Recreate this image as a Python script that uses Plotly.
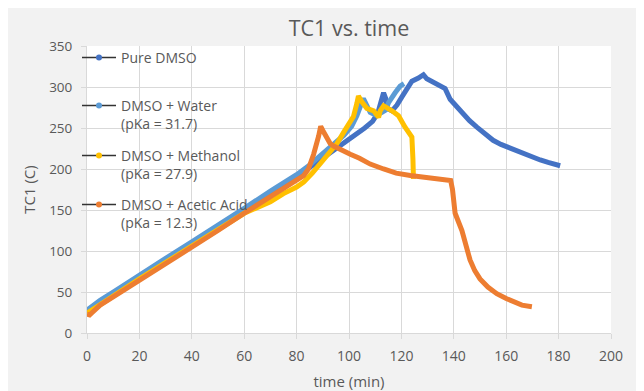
import plotly.graph_objects as go

# ---------------- data ----------------
dmso_t = [0, 2, 5, 10, 20, 30, 40, 50, 60, 70, 80, 85, 90, 94, 98, 102, 106, 109, 111,
          112.3, 113.2, 114, 114.6, 116.4, 118.3, 120.2, 122, 124, 126.5, 128.4, 129.7,
          131, 133.5, 136.7, 138.6, 141, 143.7, 146, 148.8, 152, 155, 158, 161, 164,
          167, 170, 173, 176, 178, 180.6]
dmso_T = [26, 30, 37, 47, 68, 88, 108, 128, 150, 170, 190, 202, 213, 222, 231, 240, 250,
          258, 268, 283, 293, 286, 274, 271, 278, 288, 298, 307, 311, 315, 310, 308, 304,
          298, 285, 276, 267, 259, 251, 242, 235, 230, 226, 222, 218, 214, 211, 208, 206, 204]

water_t = [0, 5, 10, 20, 30, 40, 50, 60, 70, 80, 85, 90, 94, 98, 101, 103, 104.5, 105.5,
           107, 108.1, 110, 112, 114, 115.1, 117.6, 119.5, 121]
water_T = [28, 40, 50, 71, 91, 111, 131, 152, 173, 193, 205, 218, 230, 241, 252, 265, 280,
           286, 276, 269, 266, 268, 272, 281, 293, 301, 304]

meth_t = [0, 5, 10, 20, 30, 40, 50, 60, 70, 75, 80, 82.7, 86, 89, 92, 95.4, 98, 100,
          101.7, 103, 103.6, 104.9, 106.8, 109.4, 111.3, 111.9, 113.2, 116.4, 118.9,
          121.4, 124, 124.4, 124.6]
meth_T = [24, 35, 45, 66, 86, 106, 126, 146, 160, 170, 178, 184, 195, 206, 218, 231, 245,
          255, 264, 280, 289, 282, 274, 271, 263, 271, 277, 271, 265, 251, 239, 212, 188]

acet_t = [0, 1, 2, 5, 10, 20, 30, 40, 50, 60, 70, 76, 80, 82.7, 84.5, 86.5, 88.4, 89.2,
          90, 90.9, 92.8, 94.1, 97, 100.5, 104, 108.1, 113.2, 118, 123.4, 128, 133,
          137.3, 138.8, 139.5, 140.5, 143.1, 146.2, 148, 150, 153, 156.4, 160, 162.7,
          166, 169.8]
acet_T = [23, 22, 25, 34, 44, 64, 85, 105, 125, 146, 166, 178, 186, 192, 200, 218, 240,
          252, 247, 241, 231, 228, 223, 218, 213, 206, 200, 195, 192, 190, 188, 187, 186,
          175, 146, 125, 89, 76, 66, 56, 48, 42, 38, 34, 32]

series_names = ["Pure DMSO", "DMSO + Water<br>(pKa = 31.7)",
                "DMSO + Methanol<br>(pKa = 27.9)", "DMSO + Acetic Acid<br>(pKa = 12.3)"]
series_colors = ["#4472C4", "#5B9BD5", "#FFC000", "#ED7D31"]
series_data = [(dmso_t, dmso_T), (water_t, water_T), (meth_t, meth_T), (acet_t, acet_T)]

x_ticks = list(range(0, 201, 20))
y_ticks = list(range(0, 351, 50))

# ---------------- figure ----------------
OFF = 8                      # page body margin of the browser
W, H = 644 - OFF, 391 - OFF
ML, MR, MT, MB = 87 - OFF, 33, 46 - OFF, 58
PW, PH = W - ML - MR, H - MT - MB


def px_x(p):  # screen px (reference coords) -> paper x
    return (p - OFF - ML) / PW


def px_y(p):  # screen px (reference coords) -> paper y
    return (H - MB - (p - OFF)) / PH


fig = go.Figure()
TXT = "#595959"
GRID = "#d9d9d9"
FONT = "Open Sans"

for (t, T), c in zip(series_data, series_colors):
    fig.add_trace(go.Scatter(x=t, y=T, mode="lines", line=dict(color=c, width=5),
                             showlegend=False, hoverinfo="x+y"))

legend_centers = [58, 106, 156, 205]
for i, (name, c) in enumerate(zip(series_names, series_colors)):
    lg = "legend" if i == 0 else f"legend{i+1}"
    fig.add_trace(go.Scatter(x=[None], y=[None], mode="lines+markers", name=name,
                             line=dict(color="#333333", width=1.5),
                             marker=dict(color=c, size=6), legend=lg))
    fig.update_layout(**{lg: dict(x=px_x(77), y=px_y(legend_centers[i] - 16),
                                  xanchor="left", yanchor="top", valign="top",
                                  itemwidth=34, bgcolor="rgba(0,0,0,0)",
                                  font=dict(family=FONT, size=14, color=TXT))})

fig.update_layout(
    width=W, height=H,
    margin=dict(l=ML, r=MR, t=MT, b=MB),
    paper_bgcolor="#f2f2f2", plot_bgcolor="white",
    title=dict(text="TC1 vs. time", x=0.5, xref="paper", xanchor="center",
               y=1 - (28.5 - OFF) / H, yanchor="middle",
               font=dict(family=FONT, size=21.5, color=TXT)),
    font=dict(family=FONT, size=14, color=TXT),
    xaxis=dict(range=[0, 200], tickvals=x_ticks, ticks="outside", ticklen=5,
               tickcolor=GRID, showline=True, linecolor=GRID, linewidth=1,
               showgrid=True, gridcolor=GRID, zeroline=False,
               tickfont=dict(family=FONT, size=14, color=TXT), ticklabelstandoff=5,
               title=dict(text="time (min)", font=dict(family=FONT, size=15, color=TXT),
                          standoff=12), automargin=False),
    yaxis=dict(range=[0, 350], tickvals=y_ticks, ticks="outside", ticklen=5,
               tickcolor=GRID, showline=True, linecolor=GRID, linewidth=1,
               showgrid=True, gridcolor=GRID, zeroline=False,
               tickfont=dict(family=FONT, size=13.5, color=TXT), ticklabelstandoff=6,
               title=dict(text="TC1 (C)", font=dict(family=FONT, size=15, color=TXT),
                          standoff=9), automargin=False),
)

fig.write_html("out.html")
